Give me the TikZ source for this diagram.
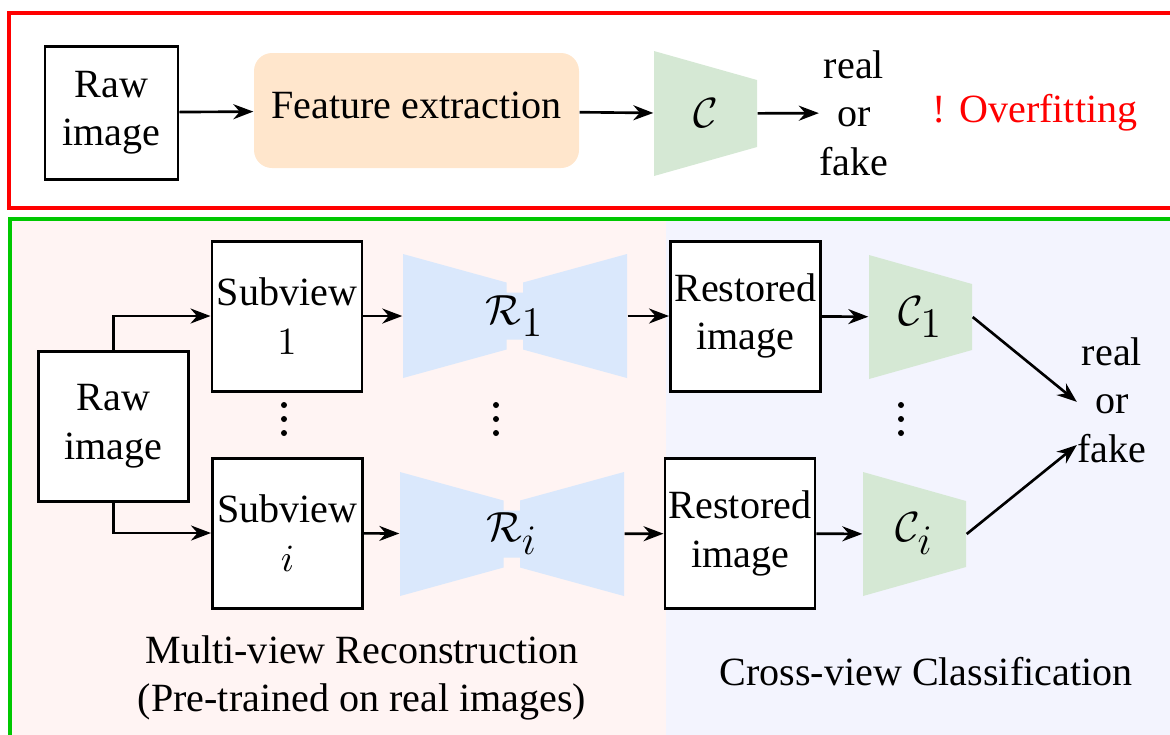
\documentclass[tikz,border=0pt]{standalone}
\usepackage{fontspec}
\setmainfont{Liberation Serif}
\usetikzlibrary{arrows.meta}
\definecolor{peach}{HTML}{FFE6CC}
\definecolor{clsfill}{HTML}{D5E8D4}
\definecolor{recfill}{HTML}{DAE8FC}
\definecolor{pinkbg}{HTML}{FFF4F3}
\definecolor{bluebg}{HTML}{F3F4FE}
\definecolor{frgreen}{HTML}{00C800}
\tikzset{
  box/.style={draw,line width=.85pt,fill=white,align=center,inner sep=0pt,minimum width=15mm,minimum height=15mm},
  feat/.style={fill=peach,rounded corners=1.8mm,inner sep=0pt,text depth=1mm,minimum width=32.5mm,minimum height=11.5mm},
  clsbox/.style={inner sep=0pt,minimum width=10.3mm,minimum height=12.4mm,font=\fontsize{13}{15}\selectfont,
    path picture={\fill[clsfill] (path picture bounding box.north west)
      -- ([yshift=-2.9mm]path picture bounding box.north east)
      -- ([yshift=2.9mm]path picture bounding box.south east)
      -- (path picture bounding box.south west) -- cycle;}},
  recbox/.style={inner sep=0pt,minimum width=22.4mm,minimum height=12.4mm,font=\fontsize{13}{15}\selectfont,
    path picture={\fill[recfill] (path picture bounding box.north west)
      -- ++(10.35mm,-2.85mm) -- ++(0,-1mm) -- ++(1.65mm,0) -- ++(0,1mm) -- ++(10.4mm,2.85mm)
      -- ++(0,-12.4mm) -- ++(-10.4mm,2.85mm) -- ++(0,1mm) -- ++(-1.65mm,0) -- ++(0,-1mm) -- ++(-10.35mm,-2.85mm)
      -- cycle;}},
  arr/.style={-{Stealth[length=2mm,width=1.5mm]},line width=.75pt},
  txt/.style={align=center,inner sep=0pt}
}

\begin{document}
\begin{tikzpicture}[x=0.1mm,y=-0.1mm,font=\fontsize{11.4}{13.8}\selectfont]
  \useasboundingbox (0,0) rectangle (1170,734);
  % panels
  \fill[pinkbg] (10,219) rectangle (666,740);
  \fill[bluebg] (666,219) rectangle (1180,740);
  \draw[red,line width=1.2pt] (9,13) rectangle (1185,208);
  \draw[frgreen,line width=1.2pt] (10,219) rectangle (1185,745);

  % baseline pipeline
  \node[box,minimum width=13.3mm,minimum height=13.3mm] (raw0) at (111.5,112.5) {Raw\\image};
  \node[feat] (feat) at (416.5,110.5) {Feature extraction};
  \node[clsbox,minimum height=12.5mm] (cls0) at (705.5,113.5) {$\mathcal{C}$};
  \node[txt] (out0) at (854,113) {real\\or\\fake};
  \node[txt,text=red] (ovf) at (1035,113) {! Overfitting};
  \draw[arr] (raw0) -- (feat);
  \draw[arr] (feat) -- (cls0);
  \draw[arr] (cls0) -- (out0);

  % multi-view reconstruction
  \node[box] (raw1) at (113.5,426) {Raw\\image};
  \node[box] (sub1) at (287,316) {Subview\\$1$};
  \node[box] (subi) at (287.5,533) {Subview\\$i$};
  \node[recbox] (rec1) at (515,316) {$\mathcal{R}_{\textstyle 1}$};
  \node[recbox] (reci) at (512,534) {$\mathcal{R}_{\textstyle i}$};
  \node[box] (res1) at (745.5,316) {Restored\\image};
  \node[box] (resi) at (740,533.5) {Restored\\image};
  \node[clsbox] (cls1) at (920.5,317) {$\mathcal{C}_{\textstyle 1}$};
  \node[clsbox] (clsi) at (914.5,534) {$\mathcal{C}_{\textstyle i}$};
  \node[txt,minimum height=15mm] (out1) at (1112,400) {real\\or\\fake};
  \foreach \dx in {284,496,901}
    \foreach \dy in {405,419,433}
      \fill (\dx,\dy) circle (0.3mm);

  \draw[arr] (raw1.north) |- (sub1.west);
  \draw[arr] (raw1.south) |- (subi.west);
  \draw[arr] (sub1) -- (rec1);
  \draw[arr] (subi) -- (reci);
  \draw[arr] (rec1) -- (res1);
  \draw[arr] (reci) -- (resi);
  \draw[arr] (res1) -- (cls1);
  \draw[arr] (resi) -- (clsi);
  \draw[arr] (cls1.east) -- (out1.183);
  \draw[arr] (clsi.east) -- (out1.232);

  \node[txt] (mvr) at (362,678) {Multi-view Reconstruction\\(Pre-trained on real images)};
  \node[txt] (cvc) at (926,672) {Cross-view Classification};
\end{tikzpicture}
\end{document}
